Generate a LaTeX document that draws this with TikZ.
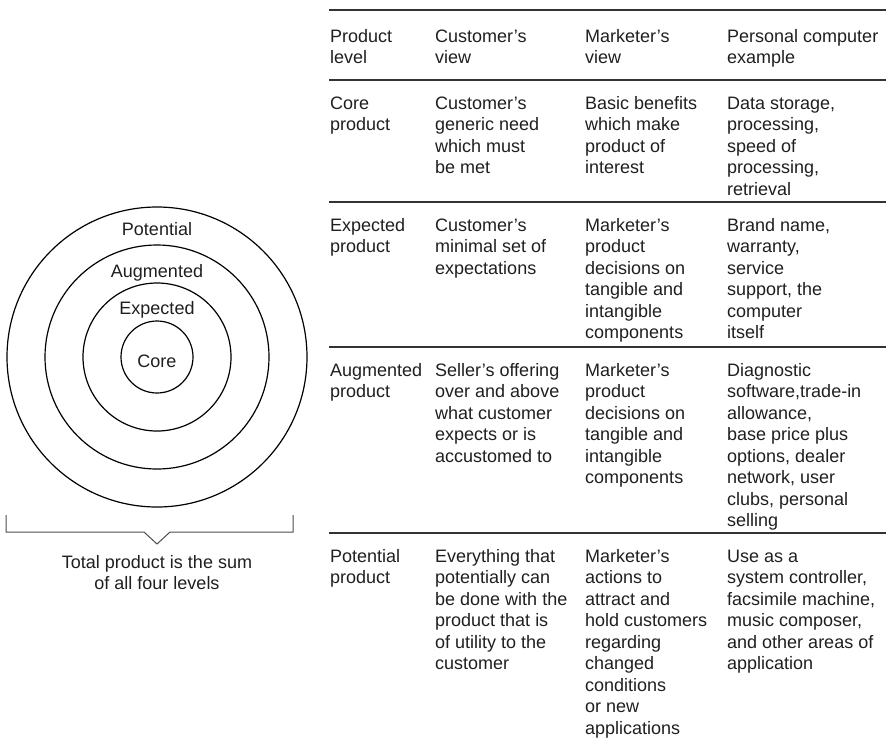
\documentclass[tikz,border=0pt]{standalone}
\usepackage{fontspec}
\setmainfont{Liberation Sans}
\newcommand{\celltext}[1]{\begin{tabular}[t]{@{}l@{}}#1\end{tabular}}
\newcommand{\captext}[1]{\begin{tabular}[t]{@{}c@{}}#1\end{tabular}}
\begin{document}
\begin{tikzpicture}[x=1pt,y=-1pt,
  txt/.style={text=black!88, font=\fontsize{18}{21.5}\selectfont, inner sep=0pt},
  cell/.style={txt, anchor=base west},
  rule/.style={draw=black!80, line width=1.4pt},
  ring/.style={draw=black, line width=1.2pt},
  brk/.style={draw=black!70, line width=1pt}]
\useasboundingbox (0,0) rectangle (886,748);
% concentric levels
\coordinate (c) at (157,357);
\draw[ring] (c) circle[radius=150];
\draw[ring] (c) circle[radius=112];
\draw[ring] (c) circle[radius=74];
\draw[ring] (c) circle[radius=36];
\node[txt, anchor=base] (lpot) at (157,235) {Potential};
\node[txt, anchor=base] (laug) at (157,277) {Augmented};
\node[txt, anchor=base] (lexp) at (157,314) {Expected};
\node[txt, anchor=base] (lcore) at (157,367) {Core};
% bracket
\coordinate (bl) at (6,515);
\coordinate (br) at (293,515);
\draw[brk] (bl) -- (6,532) -- (144,532) -- (157,544) -- (170,532) -- (293,532) -- (br);
\node[txt, anchor=base] (cap) at (157,568) {\captext{Total product is the sum\\of all four levels}};
% table rules
\foreach \y in {10,80,202,347,533} \draw[rule] (329,\y) -- (886,\y);
% header
\node[cell] (h1) at (330,42) {\celltext{Product\\level}};
\node[cell] (h2) at (435,42) {\celltext{Customer's\\view}};
\node[cell] (h3) at (585,42) {\celltext{Marketer's\\view}};
\node[cell] (h4) at (727,42) {\celltext{Personal computer\\example}};
% core
\node[cell] (a1) at (330,109) {\celltext{Core\\product}};
\node[cell] (a2) at (435,109) {\celltext{Customer's\\generic need\\which must\\be met}};
\node[cell] (a3) at (585,109) {\celltext{Basic benefits\\which make\\product of\\interest}};
\node[cell] (a4) at (727,109) {\celltext{Data storage,\\processing,\\speed of\\processing,\\retrieval}};
% expected
\node[cell] (b1) at (330,231) {\celltext{Expected\\product}};
\node[cell] (b2) at (435,231) {\celltext{Customer's\\minimal set of\\expectations}};
\node[cell] (b3) at (585,231) {\celltext{Marketer's\\product\\decisions on\\tangible and\\intangible\\components}};
\node[cell] (b4) at (727,231) {\celltext{Brand name,\\warranty,\\service\\support, the\\computer\\itself}};
% augmented
\node[cell] (d1) at (330,376) {\celltext{Augmented\\product}};
\node[cell] (d2) at (435,376) {\celltext{Seller's offering\\over and above\\what customer\\expects or is\\accustomed to}};
\node[cell] (d3) at (585,376) {\celltext{Marketer's\\product\\decisions on\\tangible and\\intangible\\components}};
\node[cell] (d4) at (727,376) {\celltext{Diagnostic\\software,trade-in\\allowance,\\base price plus\\options, dealer\\network, user\\clubs, personal\\selling}};
% potential
\node[cell] (e1) at (330,562) {\celltext{Potential\\product}};
\node[cell] (e2) at (435,562) {\celltext{Everything that\\potentially can\\be done with the\\product that is\\of utility to the\\customer}};
\node[cell] (e3) at (585,562) {\celltext{Marketer's\\actions to\\attract and\\hold customers\\regarding\\changed\\conditions\\or new\\applications}};
\node[cell] (e4) at (727,562) {\celltext{Use as a\\system controller,\\facsimile machine,\\music composer,\\and other areas of\\application}};
\end{tikzpicture}
\end{document}
